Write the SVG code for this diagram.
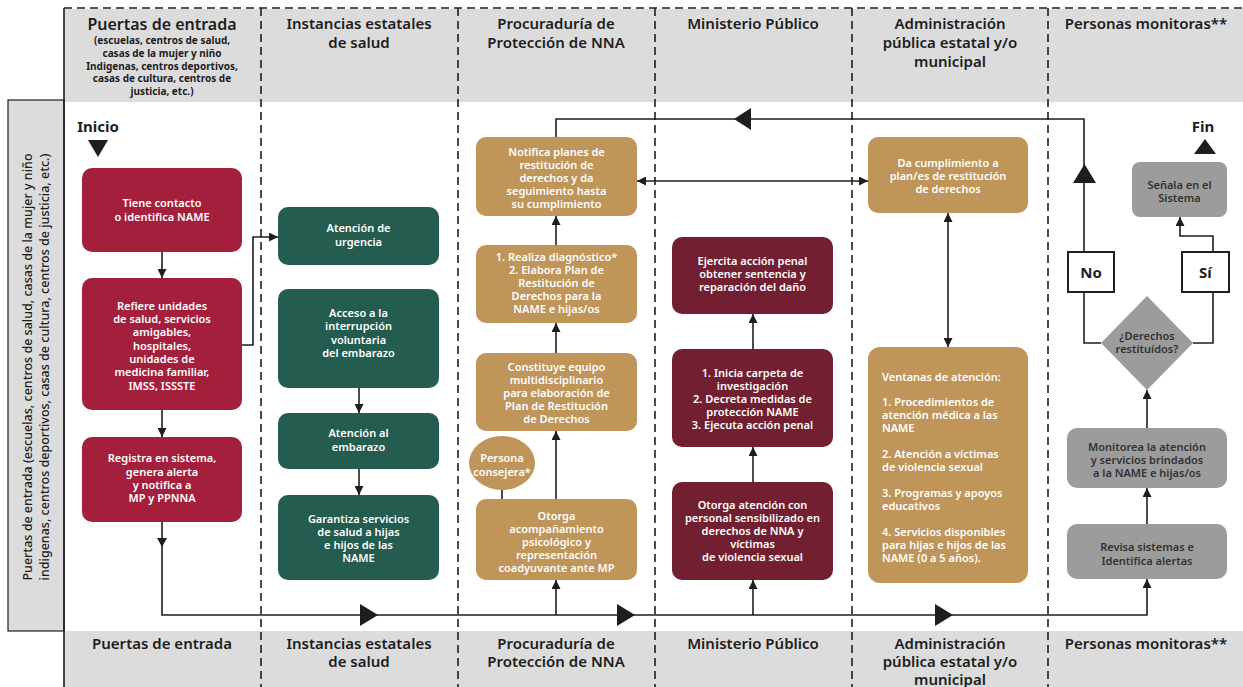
<svg xmlns="http://www.w3.org/2000/svg" width="1243" height="687" viewBox="0 0 1243 687">
<style>
.hd{font-family:"Noto Sans","Open Sans",sans-serif;font-size:15px;font-weight:600;fill:#1e1e1e;text-anchor:middle}
.sub{font-family:"Noto Sans","Open Sans",sans-serif;font-size:10px;font-weight:700;fill:#1e1e1e;text-anchor:middle}
.nt{font-family:"Noto Sans","Open Sans",sans-serif;font-size:11px;font-weight:600;fill:#ffffff;text-anchor:middle}
.gt{font-family:"Noto Sans","Open Sans",sans-serif;font-size:11px;font-weight:600;fill:#333333;text-anchor:middle}
.lt{font-family:"Noto Sans","Open Sans",sans-serif;font-size:11px;font-weight:600;fill:#ffffff;text-anchor:start}
.big{font-family:"Noto Sans","Open Sans",sans-serif;font-size:15px;font-weight:700;fill:#1e1e1e;text-anchor:middle}
.side{font-family:"Noto Sans","Open Sans",sans-serif;font-size:12.5px;font-weight:500;fill:#1e1e1e;text-anchor:middle}
.red{fill:#a41f3c}
.grn{fill:#245c4f}
.tan{fill:#bf955a}
.mar{fill:#721f31}
.gry{fill:#9c9c9c}
.div{stroke:#1e1e1e;stroke-width:1.6;stroke-dasharray:8 5;fill:none}
.ln{stroke:#1e1e1e;stroke-width:1.6;fill:none}
.tri{fill:#1e1e1e}
.yn{fill:#ffffff;stroke:#1e1e1e;stroke-width:2}
</style>
<defs>
<marker id="ah" viewBox="0 0 10 10" refX="10" refY="5" markerWidth="9" markerHeight="9" markerUnits="userSpaceOnUse" orient="auto-start-reverse">
<path d="M0,0 L10,5 L0,10 z" fill="#1e1e1e"/>
</marker>
</defs>
<rect width="1243" height="687" fill="#ffffff"/>
<!-- bands -->
<g id="bands">
<rect x="64" y="9" width="1179" height="93" fill="#dcdcdc"/>
<rect x="64" y="631" width="1179" height="56" fill="#dcdcdc"/>
<rect x="8" y="100" width="56" height="531" fill="#dcdcdc" stroke="#1e1e1e" stroke-width="1.2"/>
<line x1="64" y1="8" x2="1243" y2="8" class="div"/>
<line x1="64" y1="8" x2="64" y2="687" class="ln"/>
<line x1="261" y1="8" x2="261" y2="687" class="div"/>
<line x1="458" y1="8" x2="458" y2="687" class="div"/>
<line x1="655" y1="8" x2="655" y2="687" class="div"/>
<line x1="852" y1="8" x2="852" y2="687" class="div"/>
<line x1="1048" y1="8" x2="1048" y2="687" class="div"/>
</g>
<g id="headers">
<text class="hd" x="162" y="30" style="font-size:16px">Puertas de entrada</text>
<text class="sub" x="162" y="44">(escuelas, centros de salud,</text>
<text class="sub" x="162" y="57">casas de la mujer y niño</text>
<text class="sub" x="162" y="70">Indigenas, centros deportivos,</text>
<text class="sub" x="162" y="82">casas de cultura, centros de</text>
<text class="sub" x="162" y="95">justicia, etc.)</text>
<text class="hd" x="359" y="29">Instancias estatales</text>
<text class="hd" x="359" y="48">de salud</text>
<text class="hd" x="556" y="29">Procuraduría de</text>
<text class="hd" x="556" y="48">Protección de NNA</text>
<text class="hd" x="753" y="29">Ministerio Público</text>
<text class="hd" x="950" y="29">Administración</text>
<text class="hd" x="950" y="48">pública estatal y/o</text>
<text class="hd" x="950" y="67">municipal</text>
<text class="hd" x="1146" y="29">Personas monitoras**</text>
<text class="hd" x="162" y="649">Puertas de entrada</text>
<text class="hd" x="359" y="649">Instancias estatales</text>
<text class="hd" x="359" y="667">de salud</text>
<text class="hd" x="556" y="649">Procuraduría de</text>
<text class="hd" x="556" y="667">Protección de NNA</text>
<text class="hd" x="753" y="649">Ministerio Público</text>
<text class="hd" x="950" y="649">Administración</text>
<text class="hd" x="950" y="667">pública estatal y/o</text>
<text class="hd" x="950" y="685">municipal</text>
<text class="hd" x="1146" y="649">Personas monitoras**</text>
<text class="side" transform="translate(32,367) rotate(-90)">Puertas de entrada (escuelas, centros de salud, casas de la mujer y niño</text>
<text class="side" transform="translate(49,367) rotate(-90)">indigenas, centros deportivos, casas de cultura, centros de justicia, etc.)</text>
</g>
<g id="connectors">
<path class="ln" d="M162,252 V278" marker-end="url(#ah)"/>
<path class="ln" d="M162,410 V437" marker-end="url(#ah)"/>
<path class="ln" d="M162,522 V615 H1147 V579" marker-end="url(#ah)"/>
<polygon class="tri" points="157,538 167,538 162,547"/>
<polygon class="tri" points="360,604 360,626 378,615"/>
<polygon class="tri" points="617,604 617,626 635,615"/>
<polygon class="tri" points="935,604 935,626 953,615"/>
<path class="ln" d="M556,615 V580" marker-end="url(#ah)"/>
<path class="ln" d="M753,615 V580" marker-end="url(#ah)"/>
<path class="ln" d="M242,345 H253 V237 H278" marker-end="url(#ah)"/>
<path class="ln" d="M359,388 V413" marker-end="url(#ah)"/>
<path class="ln" d="M359,469 V495" marker-end="url(#ah)"/>
<path class="ln" d="M556,499 V431" marker-end="url(#ah)"/>
<path class="ln" d="M556,353 V323" marker-end="url(#ah)"/>
<path class="ln" d="M556,245 V216" marker-end="url(#ah)"/>
<path class="ln" d="M502,490 V499"/>
<path class="ln" d="M753,482 V447" marker-end="url(#ah)"/>
<path class="ln" d="M753,349 V314" marker-end="url(#ah)"/>
<path class="ln" d="M637,181 H868" marker-start="url(#ah)" marker-end="url(#ah)"/>
<path class="ln" d="M948,213 V347" marker-start="url(#ah)" marker-end="url(#ah)"/>
<path class="ln" d="M1147,524 V488" marker-end="url(#ah)"/>
<path class="ln" d="M1147,428 V390" marker-end="url(#ah)"/>
<path class="ln" d="M1101,343 H1084 V292"/>
<path class="ln" d="M1084,252 V119 H556 V137"/>
<polygon class="tri" points="1073,183 1096,183 1084.5,164"/>
<polygon class="tri" points="751,108 751,130 734,119"/>
<path class="ln" d="M1193,343 H1213 V292"/>
<path class="ln" d="M1213,252 V236 H1180 V217" marker-end="url(#ah)"/>
</g>
<g id="inicio">
<text class="big" x="98" y="132">Inicio</text>
<polygon class="tri" points="88,140 108,140 98,157"/>
</g>
<g id="fin">
<text class="big" x="1203" y="132">Fin</text>
<polygon class="tri" points="1194,154 1216,154 1205,139"/>
</g>
<g id="n-tiene">
<rect class="red" x="82" y="168" width="160" height="84" rx="10"/>
<text class="nt" x="162" y="207">Tiene contacto</text>
<text class="nt" x="162" y="221">o identifica NAME</text>
</g>
<g id="n-refiere">
<rect class="red" x="82" y="278" width="160" height="132" rx="10"/>
<text class="nt" x="162" y="310">Refiere unidades</text>
<text class="nt" x="162" y="323">de salud, servicios</text>
<text class="nt" x="162" y="336">amigables,</text>
<text class="nt" x="162" y="350">hospitales,</text>
<text class="nt" x="162" y="363">unidades de</text>
<text class="nt" x="162" y="376">medicina familiar,</text>
<text class="nt" x="162" y="390">IMSS, ISSSTE</text>
</g>
<g id="n-registra">
<rect class="red" x="82" y="437" width="160" height="85" rx="10"/>
<text class="nt" x="162" y="462">Registra en sistema,</text>
<text class="nt" x="162" y="476">genera alerta</text>
<text class="nt" x="162" y="489">y notifica a</text>
<text class="nt" x="162" y="502">MP y PPNNA</text>
</g>
<g id="n-urgencia">
<rect class="grn" x="278" y="207" width="161" height="58" rx="10"/>
<text class="nt" x="358.5" y="232">Atención de</text>
<text class="nt" x="358.5" y="246">urgencia</text>
</g>
<g id="n-acceso">
<rect class="grn" x="278" y="289" width="161" height="99" rx="10"/>
<text class="nt" x="358.5" y="317">Acceso a la</text>
<text class="nt" x="358.5" y="330">interrupción</text>
<text class="nt" x="358.5" y="344">voluntaria</text>
<text class="nt" x="358.5" y="357">del embarazo</text>
</g>
<g id="n-embarazo">
<rect class="grn" x="278" y="413" width="161" height="56" rx="10"/>
<text class="nt" x="358.5" y="437">Atención al</text>
<text class="nt" x="358.5" y="451">embarazo</text>
</g>
<g id="n-garantiza">
<rect class="grn" x="278" y="495" width="161" height="85" rx="10"/>
<text class="nt" x="358.5" y="523">Garantiza servicios</text>
<text class="nt" x="358.5" y="536">de salud a hijas</text>
<text class="nt" x="358.5" y="549">e hijos de las</text>
<text class="nt" x="358.5" y="562">NAME</text>
</g>
<g id="n-notifica">
<rect class="tan" x="476" y="137" width="161" height="79" rx="10"/>
<text class="nt" x="556.5" y="156">Notifica planes de</text>
<text class="nt" x="556.5" y="169">restitución de</text>
<text class="nt" x="556.5" y="182">derechos y da</text>
<text class="nt" x="556.5" y="195">seguimiento hasta</text>
<text class="nt" x="556.5" y="208">su cumplimiento</text>
</g>
<g id="n-realiza">
<rect class="tan" x="476" y="245" width="161" height="78" rx="10"/>
<text class="nt" x="556.5" y="261">1. Realiza diagnóstico*</text>
<text class="nt" x="556.5" y="274">2. Elabora Plan de</text>
<text class="nt" x="556.5" y="287">Restitución de</text>
<text class="nt" x="556.5" y="300">Derechos para la</text>
<text class="nt" x="556.5" y="313">NAME e hijas/os</text>
</g>
<g id="n-constituye">
<rect class="tan" x="476" y="353" width="161" height="78" rx="10"/>
<text class="nt" x="556.5" y="371">Constituye equipo</text>
<text class="nt" x="556.5" y="384">multidisciplinario</text>
<text class="nt" x="556.5" y="397">para elaboración de</text>
<text class="nt" x="556.5" y="410">Plan de Restitución</text>
<text class="nt" x="556.5" y="423">de Derechos</text>
</g>
<g id="n-consejera">
<ellipse class="tan" cx="502" cy="463" rx="33" ry="27"/>
<text class="nt" x="502" y="462">Persona</text>
<text class="nt" x="502" y="476">consejera*</text>
</g>
<g id="n-otorga-pp">
<rect class="tan" x="476" y="499" width="161" height="81" rx="10"/>
<text class="nt" x="556.5" y="520">Otorga</text>
<text class="nt" x="556.5" y="533">acompañamiento</text>
<text class="nt" x="556.5" y="546">psicológico y</text>
<text class="nt" x="556.5" y="559">representación</text>
<text class="nt" x="556.5" y="572">coadyuvante ante MP</text>
</g>
<g id="n-ejercita">
<rect class="mar" x="672" y="237" width="161" height="77" rx="10"/>
<text class="nt" x="752.5" y="265">Ejercita acción penal</text>
<text class="nt" x="752.5" y="278">obtener sentencia y</text>
<text class="nt" x="752.5" y="291">reparación del daño</text>
</g>
<g id="n-inicia">
<rect class="mar" x="672" y="349" width="161" height="98" rx="10"/>
<text class="nt" x="752.5" y="377">1. Inicia carpeta de</text>
<text class="nt" x="752.5" y="390">investigación</text>
<text class="nt" x="752.5" y="403">2. Decreta medidas de</text>
<text class="nt" x="752.5" y="416">protección NAME</text>
<text class="nt" x="752.5" y="429">3. Ejecuta acción penal</text>
</g>
<g id="n-otorga-mp">
<rect class="mar" x="672" y="482" width="161" height="98" rx="10"/>
<text class="nt" x="752.5" y="509">Otorga  atención con</text>
<text class="nt" x="752.5" y="522">personal sensibilizado en</text>
<text class="nt" x="752.5" y="535">derechos de NNA y</text>
<text class="nt" x="752.5" y="548">víctimas</text>
<text class="nt" x="752.5" y="561">de violencia sexual</text>
</g>
<g id="n-da">
<rect class="tan" x="868" y="137" width="160" height="76" rx="10"/>
<text class="nt" x="948" y="167">Da cumplimiento a</text>
<text class="nt" x="948" y="180">plan/es de restitución</text>
<text class="nt" x="948" y="193">de derechos</text>
</g>
<g id="n-ventanas">
<rect class="tan" x="868" y="347" width="160" height="236" rx="12"/>
<text class="lt" x="882" y="381">Ventanas de atención:</text>
<text class="lt" x="882" y="406">1. Procedimientos de</text>
<text class="lt" x="882" y="419">atención médica a las</text>
<text class="lt" x="882" y="432">NAME</text>
<text class="lt" x="882" y="458">2. Atención a víctimas</text>
<text class="lt" x="882" y="471">de violencia sexual</text>
<text class="lt" x="882" y="497">3. Programas y apoyos</text>
<text class="lt" x="882" y="510">educativos</text>
<text class="lt" x="882" y="536">4. Servicios disponibles</text>
<text class="lt" x="882" y="549">para hijas e hijos de las</text>
<text class="lt" x="882" y="562">NAME (0 a 5 años).</text>
</g>
<g id="n-senala">
<rect class="gry" x="1132" y="162" width="95" height="55" rx="8"/>
<text class="gt" x="1179.5" y="189">Señala en el</text>
<text class="gt" x="1179.5" y="202">Sistema</text>
</g>
<g id="n-no">
<rect class="yn" x="1068" y="252" width="46" height="40"/>
<text class="big" x="1091" y="278">No</text>
</g>
<g id="n-si">
<rect class="yn" x="1182" y="252" width="47" height="40"/>
<text class="big" x="1205.5" y="278">Sí</text>
</g>
<g id="n-derechos">
<polygon class="gry" points="1147,296 1193,343 1147,390 1101,343"/>
<text class="gt" x="1147" y="340">¿Derechos</text>
<text class="gt" x="1147" y="353">restituídos?</text>
</g>
<g id="n-monitorea">
<rect class="gry" x="1067" y="428" width="160" height="60" rx="10"/>
<text class="gt" x="1147" y="451">Monitorea la atención</text>
<text class="gt" x="1147" y="464">y servicios brindados</text>
<text class="gt" x="1147" y="477">a la NAME e hijas/os</text>
</g>
<g id="n-revisa">
<rect class="gry" x="1067" y="524" width="160" height="55" rx="10"/>
<text class="gt" x="1147" y="551">Revisa sistemas e</text>
<text class="gt" x="1147" y="565">Identifica alertas</text>
</g>
</svg>
